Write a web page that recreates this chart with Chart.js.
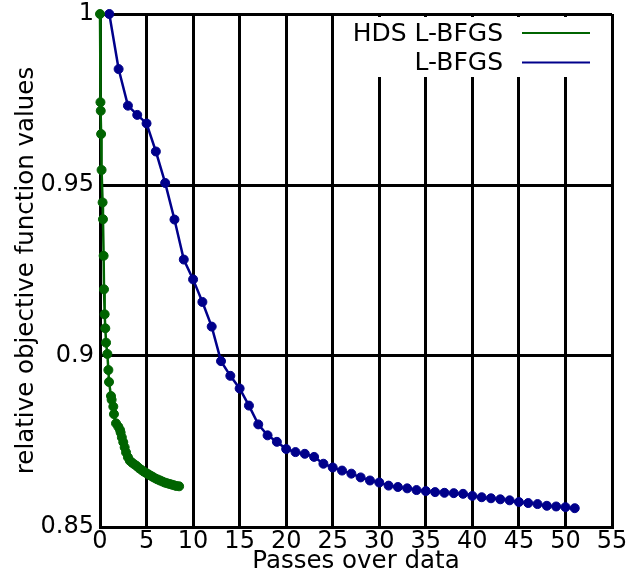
<!DOCTYPE html>
<html>
<head>
<meta charset="utf-8">
<script src="https://cdn.jsdelivr.net/npm/chart.js@4.4.1/dist/chart.umd.min.js"></script>
<style>
body { margin: 0; background: #fff; }
</style>
</head>
<body>
<canvas id="grafico" width="641" height="576"></canvas>
<script>
// Data

// HDS L-BFGS (green)
const hdsX = [0, 0.05, 0.08, 0.12, 0.17, 0.28, 0.32, 0.39, 0.43, 0.5, 0.57, 0.65, 0.79, 0.9, 0.97,
    1.18, 1.25, 1.43, 1.5, 1.72, 1.97, 2.15, 2.22, 2.35, 2.5, 2.65, 2.8, 3.0, 3.2, 3.45, 3.7, 3.95,
    4.2, 4.45, 4.7, 4.95, 5.2, 5.45, 5.7, 5.95, 6.2, 6.45, 6.7, 6.95, 7.2, 7.45, 7.7, 7.95, 8.2, 8.5];
const hdsY = [1.0, 0.9742, 0.9717, 0.9649, 0.9544, 0.9449, 0.9400, 0.9293, 0.9195, 0.9122, 0.9081,
    0.9039, 0.9006, 0.8959, 0.8924, 0.8883, 0.8872, 0.8852, 0.8830, 0.8803, 0.8793, 0.8784, 0.8776,
    0.8762, 0.8748, 0.8733, 0.8718, 0.8704, 0.8694, 0.8688, 0.8683, 0.8678, 0.8672, 0.8667, 0.8662,
    0.8658, 0.8654, 0.8650, 0.8646, 0.8642, 0.8639, 0.8636, 0.8633, 0.8630, 0.8628, 0.8626, 0.8624,
    0.8622, 0.8620, 0.8619];

// L-BFGS (blue)
const lbfgsX = [1, 2, 3, 4, 5, 6, 7, 8, 9, 10, 11, 12, 13, 14, 15, 16, 17, 18, 19, 20, 21, 22, 23, 24,
    25, 26, 27, 28, 29, 30, 31, 32, 33, 34, 35, 36, 37, 38, 39, 40, 41, 42, 43, 44, 45, 46, 47, 48,
    49, 50, 51];
const lbfgsY = [1.0, 0.9839, 0.9732, 0.9705, 0.9680, 0.9598, 0.9506, 0.9399, 0.9282, 0.9224, 0.9158,
    0.9086, 0.8985, 0.8942, 0.8905, 0.8855, 0.8800, 0.8768, 0.8749, 0.8728, 0.8719, 0.8714, 0.8705,
    0.8685, 0.8674, 0.8665, 0.8656, 0.8645, 0.8636, 0.8630, 0.8621, 0.8617, 0.8613, 0.8608, 0.8605,
    0.8602, 0.8600, 0.8599, 0.8597, 0.8591, 0.8587, 0.8584, 0.8581, 0.8578, 0.8573, 0.8570, 0.8567,
    0.8562, 0.8560, 0.8558, 0.8555];

// Tick positions and labels
const xTicks = [0, 5, 10, 15, 20, 25, 30, 35, 40, 45, 50, 55];
const xTickLabels = ["0", "5", "10", "15", "20", "25", "30", "35", "40", "45", "50", "55"];
const yTicks = [0.85, 0.9, 0.95, 1];
const yTickLabels = ["0.85", "0.9", "0.95", "1"];

const fuente = "'DejaVu Sans', sans-serif";

// Legend drawn inside the plot, text first and line after it (like the original)
const leyendaManual = {
    id: "leyendaManual",
    afterDatasetsDraw(chart) {
        const ctx = chart.ctx;
        ctx.save();
        ctx.fillStyle = "#fff";
        ctx.fillRect(343, 17, 264, 60);
        ctx.font = "25px " + fuente;
        ctx.textAlign = "right";
        ctx.textBaseline = "middle";
        chart.data.datasets.forEach((ds, i) => {
            const y = 34 + i * 29.5;
            ctx.fillStyle = "#000";
            ctx.fillText(ds.label, 503, y);
            ctx.strokeStyle = ds.borderColor;
            ctx.lineWidth = 2;
            ctx.beginPath();
            ctx.moveTo(522, y - 1);
            ctx.lineTo(590, y - 1);
            ctx.stroke();
        });
        ctx.restore();
    }
};

// Keep the plot box where the original has it (no extra padding for labels)
function sinRelleno(s) {
    s.paddingTop = 0;
    s.paddingBottom = 0;
    s.paddingLeft = 0;
    s.paddingRight = 0;
}

const ctx = document.getElementById("grafico").getContext("2d");
const grafico = new Chart(ctx, {
    type: "scatter",
    data: {
        datasets: [
            {
                label: "HDS L-BFGS",
                data: hdsX.map((x, i) => ({ x: x, y: hdsY[i] })),
                showLine: true,
                borderColor: "#006400",
                backgroundColor: "#006400",
                borderWidth: 2.5,
                pointRadius: 4.5,
                pointBorderWidth: 1,
                clip: false
            },
            {
                label: "L-BFGS",
                data: lbfgsX.map((x, i) => ({ x: x, y: lbfgsY[i] })),
                showLine: true,
                borderColor: "#00008B",
                backgroundColor: "#00008B",
                borderWidth: 2.5,
                pointRadius: 4.5,
                pointBorderWidth: 1,
                clip: false
            }
        ]
    },
    options: {
        responsive: false,
        animation: false,
        layout: { padding: { top: 14, right: 29, left: 0, bottom: 0 } },
        plugins: {
            legend: { display: false },
            tooltip: { enabled: false }
        },
        scales: {
            x: {
                type: "linear",
                min: 0,
                max: 55,
                afterBuildTicks: s => { s.ticks = xTicks.map(v => ({ value: v })); },
                afterFit: s => { s.height = 49; sinRelleno(s); },
                ticks: {
                    autoSkip: false,
                    maxRotation: 0,
                    padding: 0,
                    color: "#000",
                    font: { family: fuente, size: 24 },
                    callback: (v, i) => xTickLabels[i]
                },
                grid: { color: "#000", lineWidth: 3, drawTicks: false },
                border: { color: "#000", width: 3 },
                title: {
                    display: true,
                    text: "Passes over data",
                    color: "#000",
                    font: { family: fuente, size: 24.5 },
                    padding: { top: 0, bottom: 0 }
                }
            },
            y: {
                min: 0.85,
                max: 1,
                afterBuildTicks: s => { s.ticks = yTicks.map(v => ({ value: v })); },
                afterFit: s => { s.width = 100; sinRelleno(s); },
                ticks: {
                    padding: 6,
                    color: "#000",
                    font: { family: fuente, size: 24 },
                    callback: (v, i) => yTickLabels[i]
                },
                grid: { color: "#000", lineWidth: 3, drawTicks: false },
                border: { color: "#000", width: 3 },
                title: {
                    display: true,
                    text: "relative objective function values",
                    color: "#000",
                    font: { family: fuente, size: 24.5 },
                    padding: { top: 12, bottom: 0 }
                }
            }
        }
    },
    plugins: [leyendaManual]
});
</script>
</body>
</html>
